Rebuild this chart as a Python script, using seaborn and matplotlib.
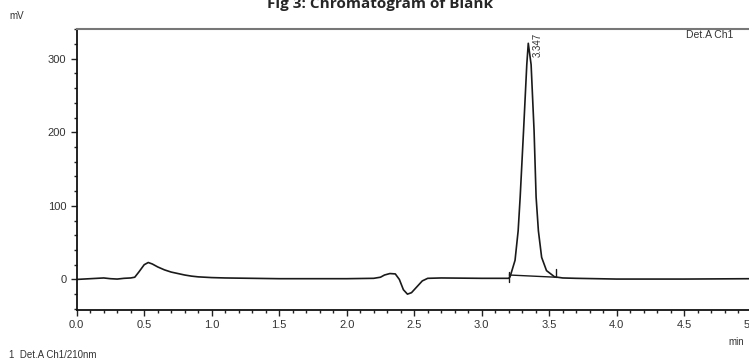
import numpy as np
import pandas as pd
import matplotlib.pyplot as plt
import seaborn as sns

# chromatogram trace (time in min, signal in mV)
time_min = [0.00, 0.05, 0.10, 0.15, 0.20, 0.25, 0.30, 0.35, 0.40, 0.43, 0.46,
            0.50, 0.53, 0.56, 0.60, 0.65, 0.70, 0.75, 0.80, 0.85, 0.90, 1.00,
            1.10, 1.30, 1.50, 2.00, 2.20, 2.25, 2.28, 2.32, 2.36, 2.39, 2.42,
            2.45, 2.48, 2.52, 2.56, 2.60, 2.70, 3.00, 3.20, 3.21, 3.247, 3.27,
            3.285, 3.31, 3.334, 3.345, 3.366, 3.388, 3.403, 3.42, 3.444, 3.48,
            3.54, 3.60, 3.70, 4.00, 4.50, 5.00]
signal_mv = [0.0, 0.5, 1.0, 1.5, 2.0, 1.0, 0.5, 1.5, 2.0, 3.0, 10.0,
             20.0, 23.0, 21.0, 17.0, 13.0, 10.0, 8.0, 6.0, 4.5, 3.5, 2.5,
             2.0, 1.5, 1.0, 1.0, 1.5, 3.0, 6.0, 8.0, 7.5, 0.0, -14.0,
             -20.0, -18.0, -10.0, -2.0, 1.5, 2.0, 1.5, 1.5, 3.5, 26.0, 66.0,
             112.0, 202.0, 292.0, 321.0, 292.0, 202.0, 112.0, 66.0, 30.0, 12.0,
             3.5, 2.0, 1.5, 0.5, 0.5, 1.0]

# integration baseline of the peak and its end markers
base_t = [3.205, 3.55]
base_v = [6.0, 3.0]
peak_label = "3.347"
peak_t = 3.347

df = pd.DataFrame({"t": time_min, "v": signal_mv})

sns.set_style("ticks")
plt.rcParams["font.family"] = ["Liberation Sans", "DejaVu Sans"]

fig = plt.figure(figsize=(7.49, 3.6), dpi=100)
ax = fig.add_axes([0.1024, 0.139, 0.9012, 0.7796])

sns.lineplot(data=df, x="t", y="v", ax=ax, color="#1a1a1a", lw=1.2, sort=False)
ax.plot(base_t, base_v, color="#1a1a1a", lw=1.0)
for bt, lo, hi in [(base_t[0], -3, 10), (base_t[1], 3.5, 14)]:
    ax.plot([bt, bt], [lo, hi], color="#1a1a1a", lw=1.0)

ax.text(peak_t + 0.03, 335, peak_label, rotation=90, va="top", ha="left",
        fontsize=7, color="#333333")
ax.text(4.51, 332, "Det.A Ch1", fontsize=7.5, color="#333333", va="center")

ax.set_xlim(0, 5.0)
ax.set_ylim(-41.5, 338)
ax.set_xticks(np.arange(0, 5.01, 0.5))
ax.set_xticks(np.arange(0, 5.01, 0.1), minor=True)
ax.set_yticks([0, 100, 200, 300])
ax.set_yticks(np.arange(-40, 341, 20), minor=True)
ax.set_xticklabels([f"{x:.1f}" for x in np.arange(0, 5.01, 0.5)])
ax.tick_params(axis="both", which="major", labelsize=8, length=4,
               width=1.0, colors="#222222", labelcolor="#333333")
ax.tick_params(axis="both", which="minor", length=2.5, width=1.0, colors="#222222")
ax.set_xlabel("")
ax.set_ylabel("")
for side in ["left", "bottom"]:
    ax.spines[side].set_color("#111111")
    ax.spines[side].set_linewidth(1.3)
ax.spines["top"].set_color("#777777")
ax.spines["top"].set_linewidth(1.5)
ax.spines["right"].set_color("#777777")

fig.text(0.012, 0.955, "mV", fontsize=7, color="#333333", va="center")
fig.text(0.973, 0.05, "min", fontsize=7, color="#333333", va="center")
fig.text(0.012, 0.028, "1  Det.A Ch1/210nm", fontsize=7, color="#333333", va="top")
fig.text(0.508, 1 - 8 / 360, "Fig 3: Chromatogram of Blank", fontsize=11,
         fontweight="bold", ha="center", va="baseline",
         family=["Open Sans", "DejaVu Sans"])

fig.savefig("out.png", dpi=100)
